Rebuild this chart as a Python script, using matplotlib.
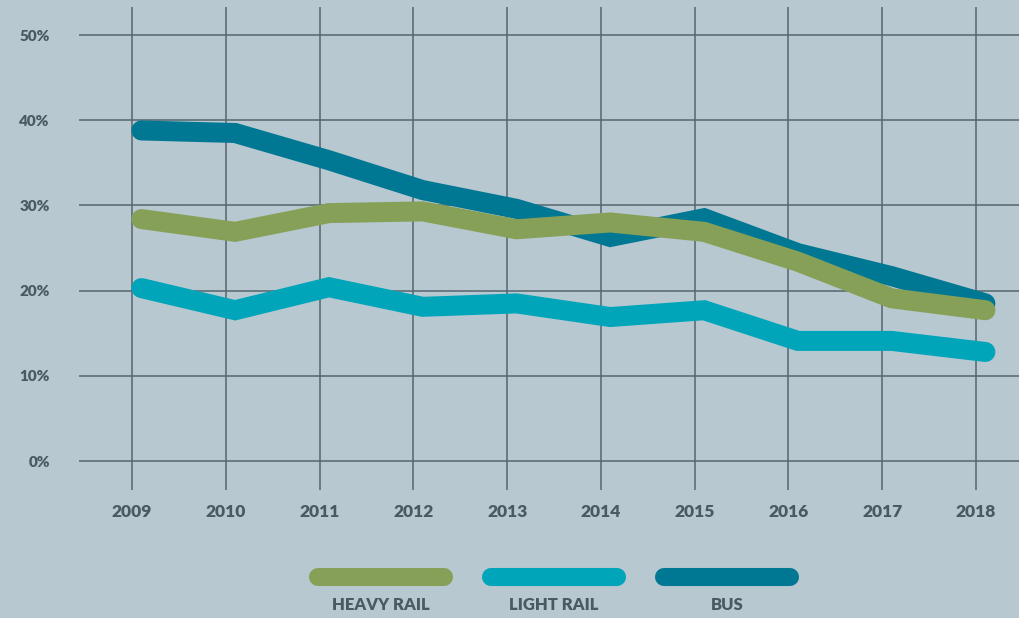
import matplotlib.pyplot as plt
from matplotlib.lines import Line2D

# data (percent)
years = [2009, 2010, 2011, 2012, 2013, 2014, 2015, 2016, 2017, 2018]
heavy_rail = [28.4, 26.9, 29.1, 29.3, 27.2, 28.0, 26.9, 23.4, 19.1, 17.7]
light_rail = [20.3, 17.7, 20.4, 18.1, 18.5, 16.9, 17.7, 14.1, 14.1, 12.8]
bus = [38.8, 38.5, 35.3, 31.8, 29.6, 26.3, 28.5, 24.4, 21.7, 18.5]
y_ticks = [0, 10, 20, 30, 40, 50]
series_names = ['HEAVY RAIL', 'LIGHT RAIL', 'BUS']

bg = '#b7c8d0'
grid_col = '#56656d'
text_col = '#4a5a63'
c_heavy = '#87a058'
c_light = '#00a5ba'
c_bus = '#007893'

plt.rcParams['font.family'] = ['Lato', 'DejaVu Sans']

fig = plt.figure(figsize=(10.19, 6.18), dpi=100, facecolor=bg)
ax = fig.add_axes([79 / 1019, 128 / 618, 1 - 79 / 1019, 483 / 618])
ax.set_facecolor(bg)
ax.set_xlim(2008.435, 2018.458)
ax.set_ylim(-3.40, 53.29)

for v in y_ticks:
    ax.axhline(v, color=grid_col, lw=1.1, zorder=1)
for yr in years:
    ax.axvline(yr, color=grid_col, lw=1.1, zorder=1)

# points sit a little right of the year gridlines in the original
xs = [yr + 0.1 for yr in years]
lw = 14.4
ax.plot(xs, bus, color=c_bus, lw=lw, solid_capstyle='round', solid_joinstyle='miter', zorder=3)
ax.plot(xs, light_rail, color=c_light, lw=lw, solid_capstyle='round', solid_joinstyle='miter', zorder=4)
ax.plot(xs, heavy_rail, color=c_heavy, lw=lw, solid_capstyle='round', solid_joinstyle='miter', zorder=5)

ax.set_xticks(years)
ax.set_xticklabels([str(y) for y in years], fontsize=12.5, fontweight='heavy', color=text_col)
ax.set_yticks(y_ticks)
ax.set_yticklabels([f'{v}%' for v in y_ticks], fontsize=11, fontweight='heavy', color=text_col)
ax.tick_params(axis='x', length=0, pad=10)
ax.tick_params(axis='y', length=0, pad=21)
for s in ax.spines.values():
    s.set_visible(False)

# legend: rounded bars with labels underneath
legend_cols = [c_heavy, c_light, c_bus]
centers = [381, 554, 727]
for name, col, cx in zip(series_names, legend_cols, centers):
    fig.add_artist(Line2D([(cx - 63) / 1019, (cx + 63) / 1019], [1 - 577 / 618] * 2,
                          transform=fig.transFigure, color=col, lw=13,
                          solid_capstyle='round'))
    fig.text(cx / 1019, 1 - 605 / 618, name, ha='center', va='center',
             fontsize=12, fontweight='heavy', color=text_col)

fig.savefig('out.png', dpi=100, facecolor=bg)
